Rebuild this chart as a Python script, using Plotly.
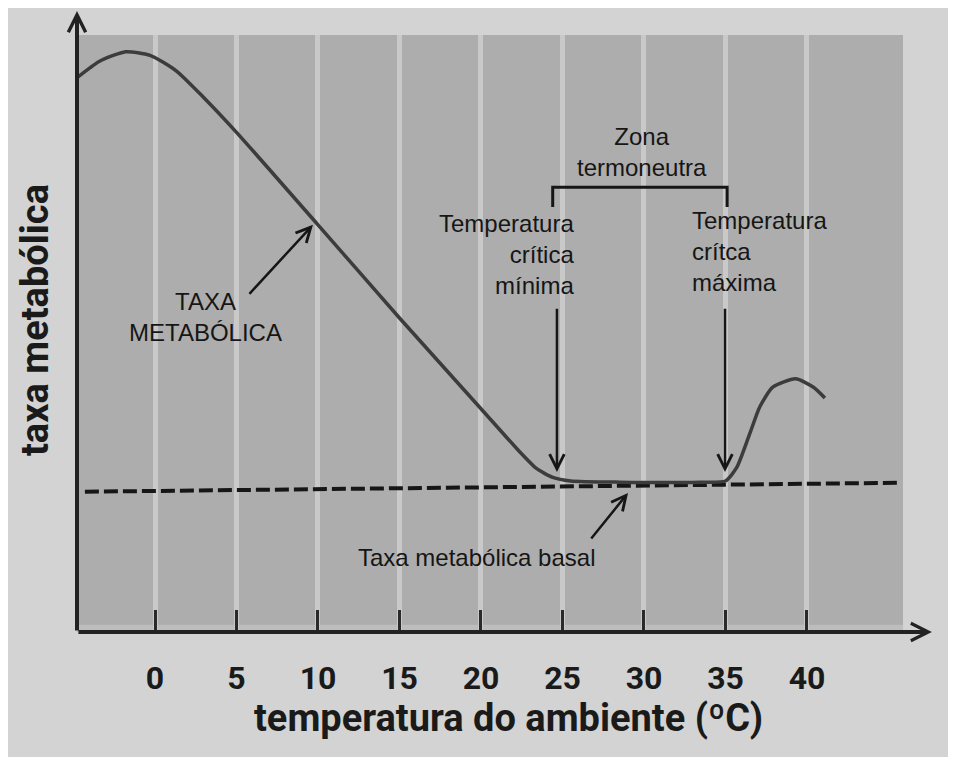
import plotly.graph_objects as go

# ---- data ----
temp_ticks = [0, 5, 10, 15, 20, 25, 30, 35, 40]
tick_labels = ["0", "5", "10", "15", "20", "25", "30", "35", "40"]

curve_x = [-4.8, -3.4, -1.8, -0.3, 1.3, 3.0, 5.0, 10, 15, 20, 22.2, 23.4, 24.4,
           25.5, 28.5, 33.4, 35.0, 35.7, 36.5, 37.1, 37.9, 39.3, 40.4, 41.1]
curve_y = [92.8, 95.6, 97.2, 96.6, 94.0, 89.5, 83.7, 68.2, 52.6, 37.4, 30.7, 27.4, 25.9,
           25.3, 25.1, 25.1, 25.3, 27.6, 33.3, 37.7, 41.0, 42.4, 41.0, 39.2]

basal_x = [-4.3, 45.8]
basal_y = [23.5, 25.0]

bracket_x = [24.4, 24.4, 35.1, 35.1]
bracket_y = [71.2, 74.5, 74.5, 71.2]

FRAME = "#d3d3d3"
PLOT = "#adadad"
STRIPE = "#c9c9c9"
INK = "#161616"

fig = go.Figure()

fig.add_trace(go.Scatter(x=basal_x, y=basal_y, mode="lines",
                         line=dict(color=INK, width=4, dash="14px,5px"),
                         hoverinfo="skip", showlegend=False))
fig.add_trace(go.Scatter(x=curve_x, y=curve_y, mode="lines",
                         line=dict(color="#3c3c3c", width=3.5, shape="spline", smoothing=0.6),
                         hoverinfo="skip", showlegend=False))
fig.add_trace(go.Scatter(x=bracket_x, y=bracket_y, mode="lines",
                         line=dict(color=INK, width=3),
                         hoverinfo="skip", showlegend=False))

annots = []
tf = dict(family="Liberation Sans, Arial, sans-serif", size=24, color=INK)

def arrow(hx, hy, tx, ty):
    annots.append(dict(x=hx, y=hy, ax=tx, ay=ty, xref="x", yref="y", axref="x", ayref="y",
                       text="", showarrow=True, arrowhead=5, arrowsize=1.15,
                       arrowwidth=2.5, arrowcolor=INK))

arrow(9.69, 68.2, 5.71, 56.4)
arrow(24.66, 26.8, 24.66, 54.4)
arrow(34.97, 26.8, 34.97, 54.4)
arrow(29.02, 23.3, 26.69, 15.4)

annots.append(dict(x=3.07, y=52.8, xref="x", yref="y", text="TAXA<br>METABÓLICA",
                   showarrow=False, font=tf, align="center"))
annots.append(dict(x=29.9, y=80.4, xref="x", yref="y", text="Zona<br>termoneutra",
                   showarrow=False, font=tf, align="center"))
annots.append(dict(x=25.83, y=63.3, xref="x", yref="y", text="Temperatura<br>crítica<br>mínima",
                   showarrow=False, font=tf, align="right", xanchor="right"))
annots.append(dict(x=32.8, y=63.7, xref="x", yref="y", text="Temperatura<br>crítca<br>máxima",
                   showarrow=False, font=tf, align="left", xanchor="left"))
annots.append(dict(x=19.75, y=12.4, xref="x", yref="y", text="Taxa metabólica basal",
                   showarrow=False, font=tf, align="center"))

# axis arrows
annots.append(dict(x=1.035, y=0, xref="paper", yref="paper", ax=-855, ay=0,
                   axref="pixel", ayref="pixel", text="", showarrow=True, arrowhead=5,
                   arrowsize=0.85, arrowwidth=4, arrowcolor="#222222"))
annots.append(dict(x=0, y=1.04, xref="paper", yref="paper", ax=0, ay=621,
                   axref="pixel", ayref="pixel", text="", showarrow=True, arrowhead=5,
                   arrowsize=0.85, arrowwidth=4, arrowcolor="#222222"))

# axis titles
title_font = dict(family="Roboto, sans-serif", size=38, color="#1a1a1a", weight="bold")
annots.append(dict(x=0.5218, y=-0.144, xref="paper", yref="paper",
                   xanchor="center", yanchor="middle",
                   text="temperatura do ambiente (ºC)", showarrow=False, font=title_font))
annots.append(dict(x=-0.0508, y=0.5226, xref="paper", yref="paper", textangle=-90,
                   xanchor="center", yanchor="middle",
                   text="taxa metabólica", showarrow=False, font=title_font))

shapes = [
    dict(type="rect", xref="paper", yref="paper", x0=0, x1=1, y0=0, y1=0.012,
         fillcolor="#bdbdbd", line_width=0, layer="below"),
]

fig.update_layout(
    width=940, height=749,
    margin=dict(l=69, r=45, t=27, b=125),
    paper_bgcolor=FRAME, plot_bgcolor=PLOT,
    showlegend=False,
    annotations=annots, shapes=shapes,
    xaxis=dict(range=[-4.785, 45.89], tickvals=temp_ticks, ticktext=tick_labels,
               showgrid=True, gridcolor=STRIPE, gridwidth=5, zeroline=False,
               ticks="inside", ticklen=22, tickwidth=3, tickcolor="#2a2a2a",
               ticklabelstandoff=24,
               tickfont=dict(family="Roboto, sans-serif", size=32, color="#1a1a1a", weight="bold"),
               showline=False, fixedrange=True),
    yaxis=dict(range=[0, 100], showgrid=False, zeroline=False, showticklabels=False,
               ticks="", showline=False, fixedrange=True),
)

fig.write_html("out.html")
